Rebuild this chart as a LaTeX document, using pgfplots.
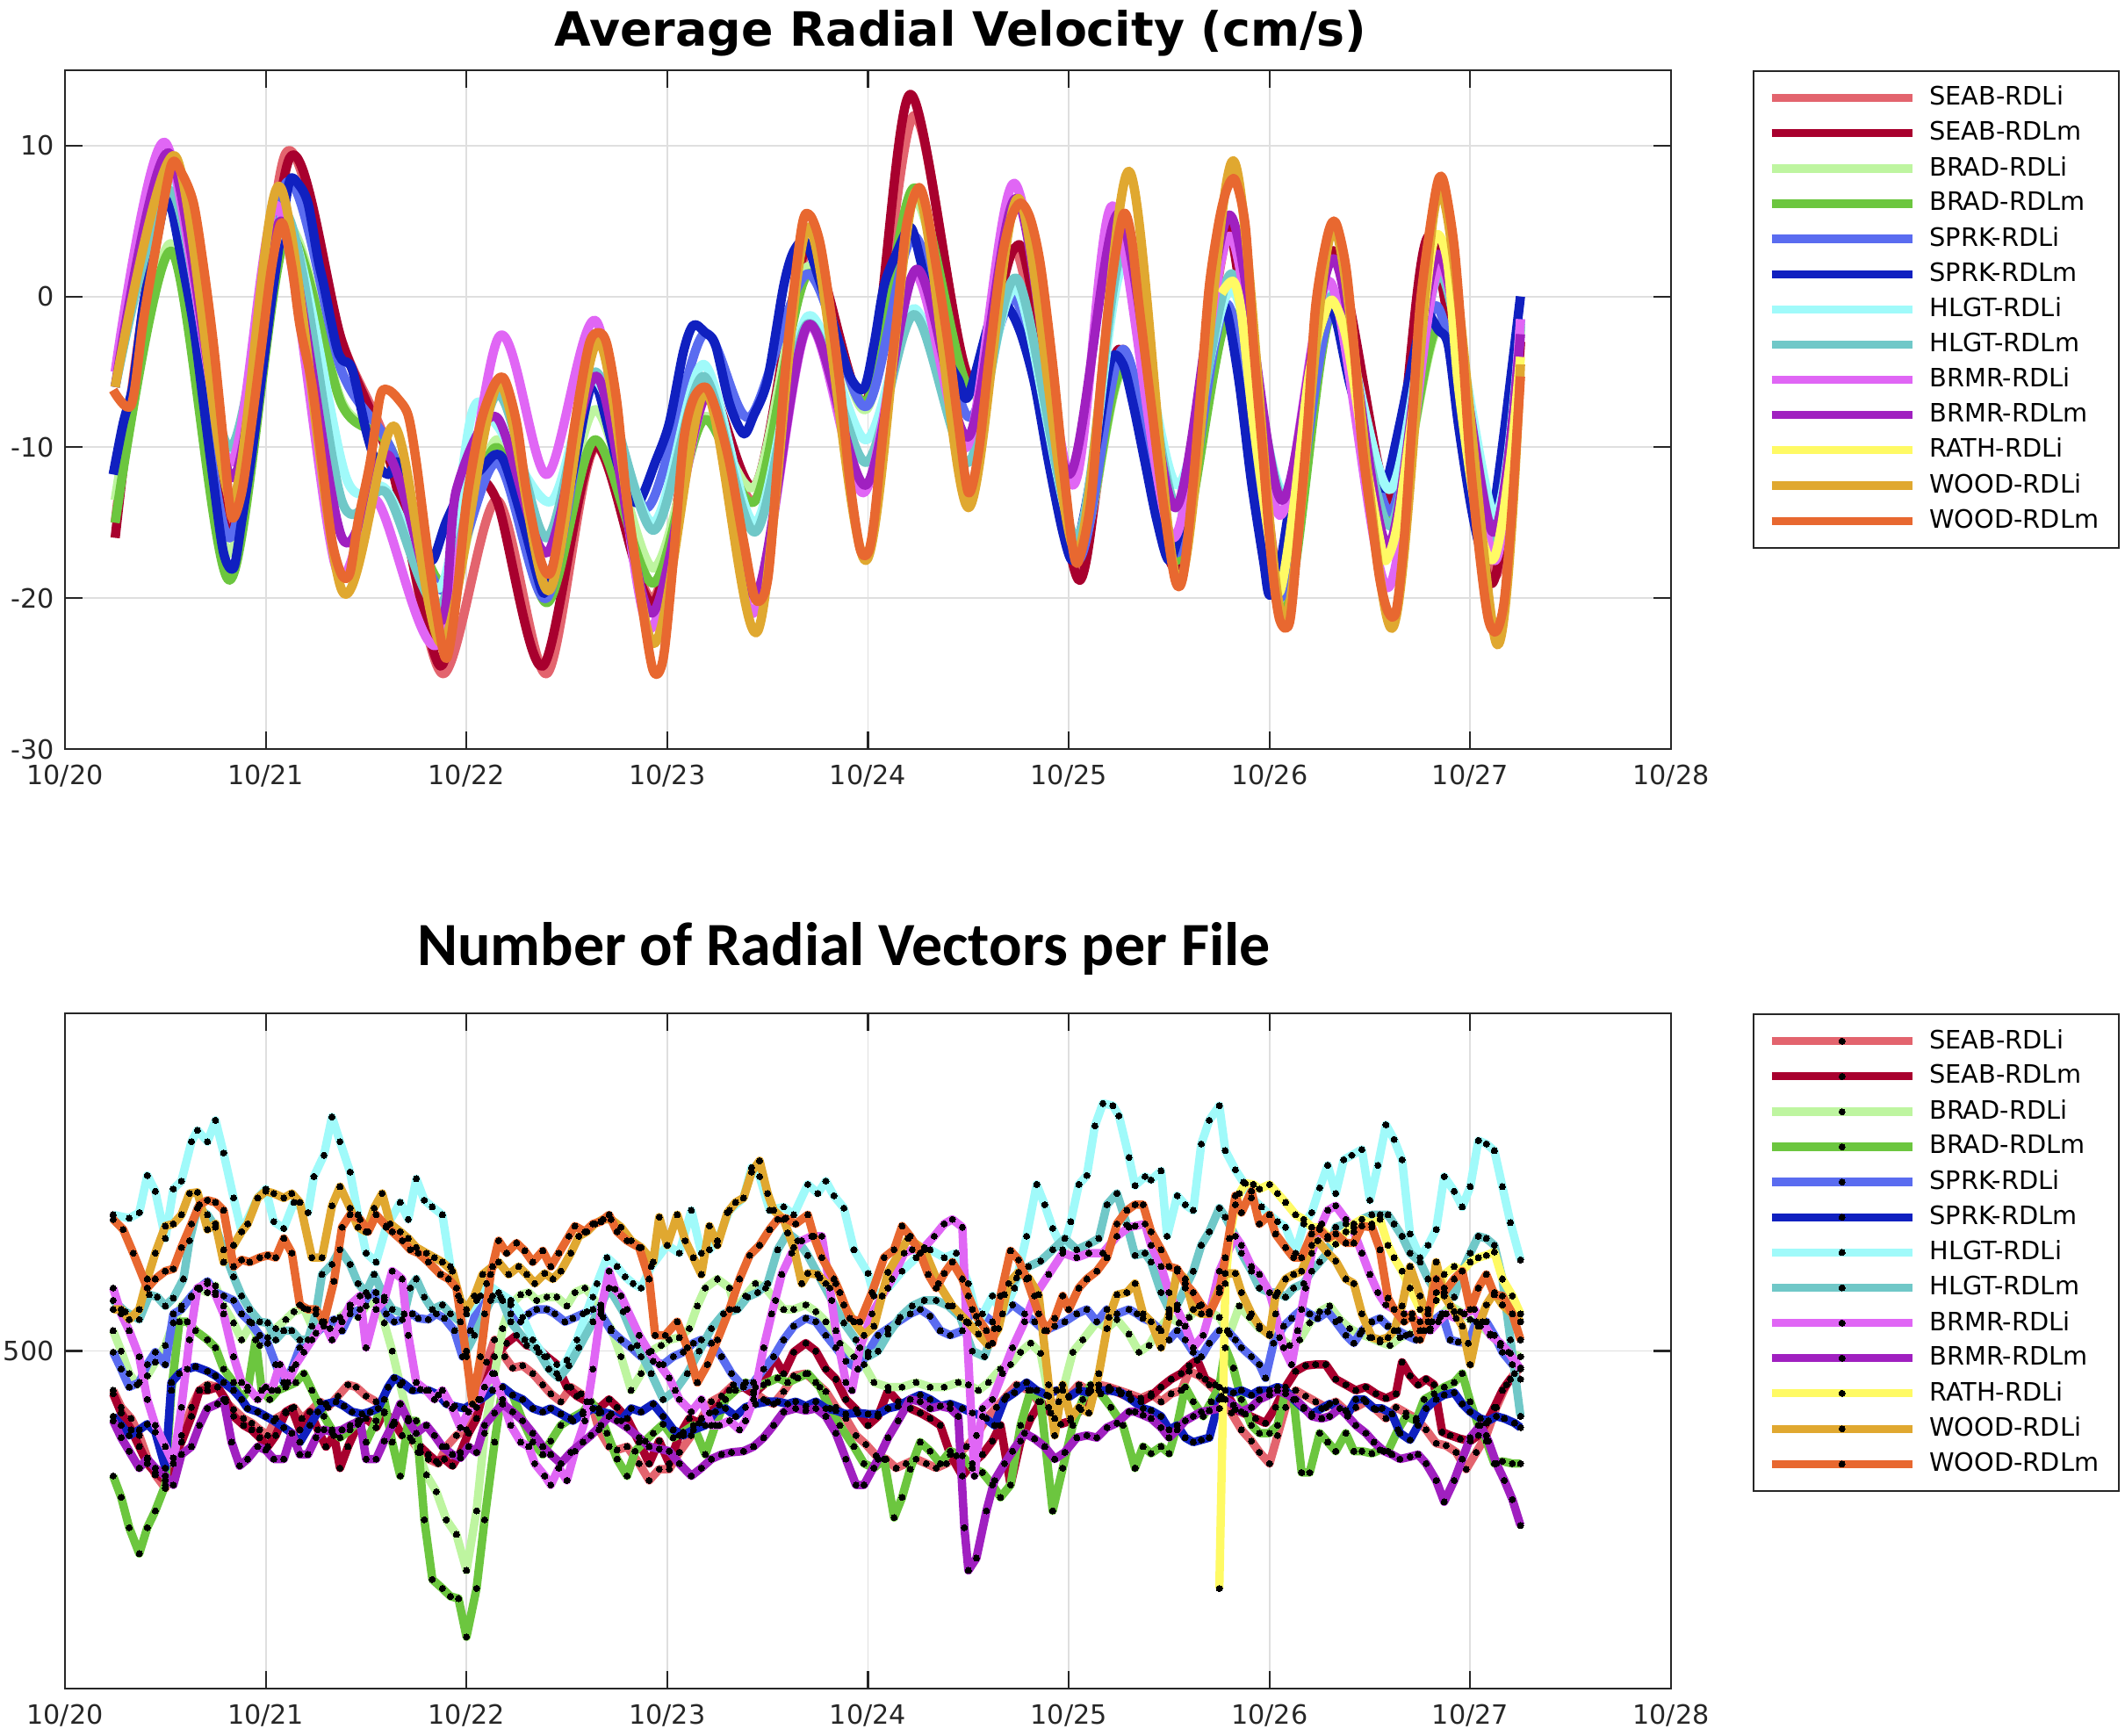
\documentclass[border=0pt]{standalone}
\usepackage{fontspec}
\setmainfont{DejaVu Sans}
\newfontfamily\carlito{Carlito}
\usepackage{pgfplots}
\pgfplotsset{compat=1.18}
\definecolor{axc}{RGB}{38,38,38}
\definecolor{gridc}{RGB}{223,223,223}
\definecolor{cSEABi}{RGB}{227,100,110}
\definecolor{cSEABm}{RGB}{168,0,46}
\definecolor{cBRADi}{RGB}{190,245,160}
\definecolor{cBRADm}{RGB}{108,198,63}
\definecolor{cSPRKi}{RGB}{90,108,240}
\definecolor{cSPRKm}{RGB}{16,32,192}
\definecolor{cHLGTi}{RGB}{160,250,250}
\definecolor{cHLGTm}{RGB}{112,200,200}
\definecolor{cBRMRi}{RGB}{224,102,245}
\definecolor{cBRMRm}{RGB}{160,32,192}
\definecolor{cRATHi}{RGB}{255,250,100}
\definecolor{cWOODi}{RGB}{224,168,48}
\definecolor{cWOODm}{RGB}{232,104,48}
\pgfplotsset{
  mat/.style={
    scale only axis, width=18.29cm,
    xmin=0, xmax=8, xtick={0,1,2,3,4,5,6,7,8},
    xticklabels={10/20,10/21,10/22,10/23,10/24,10/25,10/26,10/27,10/28},
    grid=major, major grid style={draw=gridc, line width=0.55pt},
    axis line style={draw=axc, line width=0.6pt},
    tick style={draw=axc, line width=0.6pt}, major tick length=0.2cm, tick align=inside,
    ticklabel style={font=\fontsize{8.6}{10}\selectfont, text=axc},
    xticklabel style={yshift=-0.06cm},
    legend cell align=left,
    legend style={at={(1.0509,1)}, anchor=north west, draw=axc, line width=0.6pt, fill=white,
      inner xsep=0.16cm, inner ysep=0.1cm, row sep=-0.008cm, column sep=0.08cm,
      font=\fontsize{8.2}{9}\selectfont},
  },
  tl/.style={line width=3.0pt, smooth, line join=round},
  bl/.style={line width=2.7pt, line join=round, mark=*, mark size=1.0pt, mark options={draw=black, fill=black, line width=0pt}},
}
\begin{document}
\begin{tikzpicture}[x=1cm,y=1cm]
\useasboundingbox (0,0) rectangle (24.2,19.76);
\node[font=\fontsize{15.3}{18}\selectfont\bfseries, anchor=base] at (10.94,19.23) {Average Radial Velocity (cm/s)};
\node[font=\carlito\fontsize{19.9}{24}\selectfont\bfseries, anchor=base] at (9.61,8.77) {Number of Radial Vectors per File};
% ---------------- TOP ----------------
\begin{axis}[mat, at={(0.74cm,11.23cm)}, anchor=south west, height=7.73cm,
  ymin=-30, ymax=15, ytick={-30,-20,-10,0,10}, yticklabels={-30,-20,-10,0,10},
  legend image code/.code={\draw[#1, line width=2.6pt, sharp plot] (0cm,0cm) -- (1.6cm,0cm);}]
\addplot[cSEABi, tl] coordinates {(0.25,-15)(0.53,8)(0.82,-15.5)(1.10,9.5)(1.38,-3)(1.62,-10.5)(1.88,-25)(2.15,-13.5)(2.40,-25)(2.64,-10)(2.93,-20)(3.18,-6)(3.44,-13.5)(3.70,3)(3.99,-7)(4.23,12)(4.50,-5.5)(4.74,3)(5.04,-18)(5.27,-3.5)(5.54,-17.5)(5.81,4.5)(6.07,-20)(6.31,3)(6.60,-14)(6.85,3.5)(7.12,-18.5)(7.25,-3)};
\addlegendentry{SEAB-RDLi}
\addplot[cSEABm, tl] coordinates {(0.25,-16)(0.53,8.5)(0.82,-15.7)(1.12,9.2)(1.38,-3)(1.62,-11)(1.87,-24.5)(2.0,-13)(2.15,-13.5)(2.38,-24.5)(2.64,-9.9)(2.93,-20.3)(3.18,-5.8)(3.44,-12.5)(3.70,3.3)(3.99,-7)(4.21,13.4)(4.50,-5.3)(4.72,3)(4.81,0.7)(5.05,-18.8)(5.25,-3.5)(5.54,-18)(5.79,4.6)(6.05,-20)(6.31,3)(6.60,-13.5)(6.80,4)(7.10,-19)(7.25,-3)};
\addlegendentry{SEAB-RDLm}
\addplot[cBRADi, tl] coordinates {(0.25,-13.5)(0.53,3.5)(0.82,-17)(1.10,4.5)(1.38,-7)(1.62,-10)(1.88,-21)(2.15,-9.5)(2.40,-19)(2.64,-7.5)(2.93,-18)(3.18,-8)(3.44,-12.5)(3.70,2)(3.99,-7.5)(4.23,6.5)(4.50,-6.5)(4.74,0)(5.04,-17)(5.27,-5)(5.54,-17)(5.81,-1)(6.07,-20.5)(6.31,-1)(6.60,-15)(6.85,-2)(7.12,-16)(7.25,-2)};
\addlegendentry{BRAD-RDLi}
\addplot[cBRADm, tl] coordinates {(0.25,-15)(0.53,3)(0.82,-18.8)(1.10,4)(1.38,-7.2)(1.62,-10)(1.88,-19)(2.15,-10)(2.40,-20.3)(2.64,-9.5)(2.93,-19)(3.18,-8.2)(3.44,-13.5)(3.70,1.5)(3.99,-7)(4.23,7.2)(4.50,-6)(4.74,0)(5.04,-17)(5.27,-4.8)(5.54,-17.5)(5.81,-1)(6.07,-21)(6.31,-1.1)(6.60,-15)(6.85,-1.8)(7.12,-17)(7.25,-2)};
\addlegendentry{BRAD-RDLm}
\addplot[cSPRKi, tl] coordinates {(0.25,-6)(0.53,7)(0.82,-16)(1.10,7.5)(1.38,-5)(1.62,-10)(1.88,-19.5)(2.15,-11)(2.40,-20)(2.64,-5.5)(2.90,-14)(3.18,-2.5)(3.41,-8)(3.70,1.5)(3.99,-7.3)(4.23,4)(4.50,-8)(4.74,-0.3)(5.04,-17.5)(5.27,-3.5)(5.54,-17)(5.79,-0.5)(6.05,-20)(6.31,-1)(6.60,-14.3)(6.83,-0.6)(7.10,-16)(7.25,-1.5)};
\addlegendentry{SPRK-RDLi}
\addplot[cSPRKm, tl] coordinates {(0.24,-11.8)(0.29,-8.4)(0.34,-5.8)(0.39,-0.6)(0.45,3.3)(0.50,6.4)(0.53,5.9)(0.58,2.5)(0.64,-1.9)(0.69,-7.1)(0.74,-12.3)(0.79,-17)(0.84,-18)(0.88,-14.9)(0.93,-10.5)(0.98,-5.3)(1.03,-0.1)(1.08,4.6)(1.12,7.7)(1.16,7.5)(1.21,6.2)(1.26,2.5)(1.29,0.7)(1.35,-3.2)(1.38,-4.2)(1.43,-4.8)(1.50,-8.9)(1.55,-11)(1.61,-11.8)(1.66,-11)(1.71,-13.6)(1.78,-16.2)(1.83,-17.5)(1.90,-14.9)(1.99,-12.5)(2.07,-11.5)(2.14,-10.5)(2.19,-11)(2.28,-14.9)(2.37,-19.3)(2.40,-19.3)(2.46,-16.2)(2.54,-11)(2.61,-6.3)(2.65,-6.0)(2.70,-8.4)(2.75,-11)(2.80,-13)(2.86,-13.6)(2.94,-11)(3.01,-8.4)(3.08,-3.7)(3.13,-1.9)(3.19,-2.4)(3.24,-3.2)(3.31,-7.1)(3.38,-9.1)(3.43,-7.9)(3.50,-5.5)(3.58,0.7)(3.63,3)(3.69,3.6)(3.76,1)(3.83,-1.9)(3.91,-5.3)(3.98,-6.1)(4.03,-3.2)(4.08,0.7)(4.14,2.8)(4.21,4.6)(4.26,2.5)(4.31,-0.6)(4.38,-3.7)(4.45,-5.5)(4.50,-6.6)(4.62,-1)(4.69,-0.6)(4.76,-2.4)(4.83,-5.8)(4.90,-11)(4.97,-15.6)(5.02,-17.5)(5.07,-14.9)(5.14,-9.7)(5.21,-4.2)(5.27,-4.5)(5.32,-7.1)(5.38,-11)(5.44,-14.9)(5.50,-17.5)(5.56,-15)(5.63,-9)(5.70,-3)(5.75,-0.6)(5.79,-1.1)(5.85,-5.8)(5.91,-12.3)(5.97,-17.5)(6.0,-19.8)(6.05,-18)(6.12,-12)(6.20,-5)(6.28,-1)(6.33,-1.5)(6.40,-5.8)(6.51,-11)(6.55,-12.3)(6.58,-12.5)(6.65,-8.4)(6.73,-3.2)(6.78,-1.1)(6.84,-2.2)(6.89,-3.2)(6.94,-8.4)(7.0,-13.6)(7.05,-16.7)(7.09,-16.5)(7.15,-11)(7.21,-4.5)(7.25,0)};
\addlegendentry{SPRK-RDLm}
\addplot[cHLGTi, tl] coordinates {(0.25,-6)(0.53,7.5)(0.82,-10.5)(1.10,5)(1.40,-12)(1.60,-12.8)(1.87,-19.3)(2.03,-7.6)(2.15,-8.5)(2.42,-13.6)(2.64,-5.5)(2.93,-15)(3.18,-4.5)(3.44,-15)(3.70,-1.3)(3.99,-9.5)(4.23,-0.8)(4.50,-10)(4.74,0.5)(5.04,-16)(5.27,2)(5.54,-12.5)(5.81,0.5)(6.07,-13)(6.31,0.2)(6.60,-12.8)(6.85,1.8)(7.12,-14.5)(7.25,-2)};
\addlegendentry{HLGT-RDLi}
\addplot[cHLGTm, tl] coordinates {(0.25,-6)(0.53,7)(0.82,-10)(1.10,5.5)(1.38,-13.6)(1.60,-13)(1.87,-20.5)(2.15,-6.5)(2.40,-16)(2.64,-5)(2.93,-15.5)(3.18,-5.3)(3.44,-15.6)(3.70,-1.8)(3.99,-11)(4.23,-1.2)(4.50,-11)(4.74,1.2)(5.04,-16)(5.27,3)(5.54,-14)(5.81,1.5)(6.07,-13.5)(6.31,0)(6.60,-15.2)(6.85,1.5)(7.12,-16)(7.25,-1.8)};
\addlegendentry{HLGT-RDLm}
\addplot[cBRMRi, tl] coordinates {(0.25,-5)(0.50,10.2)(0.82,-11)(1.06,6)(1.35,-18)(1.55,-13.5)(1.86,-23)(2.16,-2.7)(2.40,-11.8)(2.65,-1.7)(2.91,-22)(3.20,-6.5)(3.43,-21)(3.70,-2)(3.98,-13)(4.23,1.5)(4.49,-10)(4.73,7.5)(5.02,-12.5)(5.22,6)(5.52,-16)(5.80,4)(6.05,-14.5)(6.30,1)(6.59,-19.3)(6.85,2)(7.12,-17.5)(7.25,-1.5)};
\addlegendentry{BRMR-RDLi}
\addplot[cBRMRm, tl] coordinates {(0.25,-6)(0.52,9.5)(0.83,-12)(1.08,5)(1.38,-16)(1.61,-10.5)(1.87,-21.5)(1.95,-12.8)(2.15,-8)(2.40,-17)(2.65,-5.3)(2.92,-21)(3.20,-6.5)(3.44,-19.8)(3.70,-1.9)(3.99,-12.5)(4.24,1.8)(4.50,-9.3)(4.74,6.5)(5.0,-11.8)(5.25,5.5)(5.53,-14)(5.80,5.4)(6.06,-13.5)(6.32,2.5)(6.59,-16.5)(6.84,2.8)(7.11,-15.6)(7.25,-2.5)};
\addlegendentry{BRMR-RDLm}
\addplot[cRATHi, tl] coordinates {(5.76,0.2)(5.82,1)(5.86,-1.1)(5.92,-8.4)(6.0,-16.2)(6.05,-19.6)(6.12,-14)(6.20,-5)(6.29,-0.6)(6.33,-0.6)(6.39,-3.2)(6.48,-11)(6.55,-16.2)(6.58,-17.5)(6.64,-14.9)(6.73,-5.8)(6.80,2.5)(6.84,4.1)(6.89,2)(6.94,-5.8)(7.02,-13.6)(7.08,-17)(7.12,-17.3)(7.16,-14.9)(7.21,-9.7)(7.25,-4)};
\addlegendentry{RATH-RDLi}
\addplot[cWOODi, tl] coordinates {(0.25,-6)(0.55,9.3)(0.83,-13.5)(1.07,7.3)(1.38,-19.5)(1.64,-8.6)(1.88,-23)(2.16,-5.8)(2.41,-19.5)(2.66,-3)(2.93,-23)(3.19,-6.3)(3.45,-22.2)(3.70,4.6)(3.99,-17.5)(4.24,7)(4.50,-14)(4.75,6.5)(5.04,-17)(5.30,8.3)(5.55,-19)(5.82,9)(6.07,-21.5)(6.32,4.5)(6.61,-22)(6.85,7)(7.13,-23)(7.25,-4.5)};
\addlegendentry{WOOD-RDLi}
\addplot[cWOODm, tl] coordinates {(0.24,-6.2)(0.33,-7.2)(0.39,-1.6)(0.46,3.8)(0.53,8.75)(0.58,8.2)(0.64,6.2)(0.69,2)(0.74,-3.2)(0.79,-9.7)(0.83,-14.6)(0.88,-13)(0.93,-8.4)(0.98,-3.2)(1.03,2)(1.08,4.9)(1.13,2)(1.17,-1.9)(1.23,-5.8)(1.28,-11)(1.33,-16.2)(1.38,-18.5)(1.42,-18.3)(1.46,-14.9)(1.52,-11)(1.57,-6.6)(1.61,-6.2)(1.66,-6.8)(1.71,-7.9)(1.75,-11)(1.80,-16.2)(1.85,-20.9)(1.90,-24)(1.95,-20)(2.0,-13.6)(2.07,-8.4)(2.14,-5.8)(2.19,-5.5)(2.25,-8.4)(2.30,-13)(2.37,-17.5)(2.42,-18.3)(2.47,-14.9)(2.54,-8.4)(2.61,-3.2)(2.66,-2.4)(2.70,-3.2)(2.75,-7.1)(2.80,-13.6)(2.87,-20.1)(2.93,-24.8)(2.98,-24)(3.03,-17.5)(3.08,-9.7)(3.13,-6.8)(3.19,-6)(3.24,-7.4)(3.31,-11)(3.38,-16.2)(3.44,-20.1)(3.50,-18.8)(3.55,-11)(3.60,-3.2)(3.67,4.6)(3.71,5.4)(3.76,3.6)(3.81,-0.6)(3.86,-5.8)(3.91,-12.3)(3.96,-16.7)(4.0,-17)(4.03,-14.9)(4.08,-8.4)(4.14,-1.9)(4.19,4.6)(4.25,7.2)(4.29,5.9)(4.34,2)(4.40,-3.2)(4.45,-8.4)(4.50,-13)(4.55,-10.4)(4.60,-4.5)(4.66,2)(4.71,5.1)(4.76,6.2)(4.81,5.1)(4.86,2)(4.92,-4.5)(4.97,-11)(5.02,-16.7)(5.05,-17.5)(5.11,-13.6)(5.16,-5.8)(5.21,0.7)(5.27,5.4)(5.31,4.1)(5.35,-0.6)(5.41,-7.1)(5.47,-13.6)(5.53,-18.8)(5.57,-18.5)(5.62,-12.3)(5.66,-5.8)(5.70,0.7)(5.75,5.1)(5.79,7.2)(5.83,7.7)(5.88,4.6)(5.92,-3.2)(5.97,-11)(6.01,-17.5)(6.05,-21.4)(6.10,-21.6)(6.14,-16.2)(6.19,-8.4)(6.23,-0.6)(6.29,4.1)(6.33,4.9)(6.38,2)(6.42,-3.2)(6.46,-9.7)(6.51,-14.9)(6.55,-18.8)(6.59,-20.9)(6.63,-20.9)(6.67,-16.2)(6.71,-8.4)(6.75,-0.6)(6.80,4.6)(6.84,7.7)(6.87,7.5)(6.92,3.3)(6.96,-3.2)(7.0,-11)(7.05,-17.5)(7.09,-21.4)(7.13,-22.2)(7.17,-20.1)(7.21,-13.6)(7.25,-5.3)};
\addlegendentry{WOOD-RDLm}
\end{axis}
% ---------------- BOTTOM ----------------
\begin{axis}[mat, at={(0.74cm,0.53cm)}, anchor=south west, height=7.69cm,
  ymin=200, ymax=800, ytick={500}, yticklabels={500},
  legend image code/.code={\draw[#1, line width=2.6pt] (0cm,0cm) -- (1.6cm,0cm); \path[#1] plot[mark=*] coordinates {(0.8cm,0cm)};}]
\addplot[cSEABi, bl] coordinates {(0.24,465)(0.28,450)(0.33,440)(0.37,425)(0.41,405)(0.45,390)(0.50,378)(0.54,400)(0.58,425)(0.63,450)(0.67,465)(0.71,470)(0.76,468)(0.80,455)(0.84,448)(0.89,440)(0.93,436)(0.97,430)(1.01,425)(1.05,440)(1.10,445)(1.14,450)(1.18,440)(1.22,446)(1.27,455)(1.31,450)(1.36,460)(1.41,470)(1.45,468)(1.50,460)(1.55,455)(1.59,445)(1.64,435)(1.68,425)(1.73,420)(1.77,410)(1.81,404)(1.86,400)(1.90,415)(1.95,425)(2.0,430)(2.05,450)(2.10,490)(2.14,510)(2.19,495)(2.23,485)(2.28,487)(2.33,480)(2.38,470)(2.42,462)(2.47,455)(2.52,468)(2.57,462)(2.62,455)(2.66,430)(2.71,415)(2.75,412)(2.80,415)(2.86,400)(2.91,385)(2.96,395)(3.01,395)(3.06,410)(3.12,425)(3.17,440)(3.22,455)(3.27,460)(3.33,470)(3.38,470)(3.43,464)(3.48,457)(3.53,453)(3.58,464)(3.63,478)(3.69,480)(3.74,472)(3.79,464)(3.84,450)(3.89,440)(3.94,425)(3.99,417)(4.04,407)(4.09,404)(4.14,396)(4.19,400)(4.24,404)(4.29,400)(4.34,396)(4.39,400)(4.44,407)(4.49,415)(4.54,425)(4.59,440)(4.64,450)(4.69,460)(4.74,470)(4.80,465)(4.85,455)(4.90,450)(4.95,455)(5.0,460)(5.05,470)(5.10,465)(5.15,470)(5.20,468)(5.25,465)(5.30,462)(5.36,458)(5.41,462)(5.46,455)(5.51,462)(5.56,465)(5.60,482)(5.65,478)(5.70,470)(5.76,460)(5.81,445)(5.86,430)(5.91,420)(5.95,410)(6.0,400)(6.04,425)(6.08,450)(6.13,465)(6.18,460)(6.23,455)(6.28,450)(6.33,455)(6.38,447)(6.43,450)(6.48,455)(6.53,448)(6.58,440)(6.63,450)(6.68,445)(6.73,440)(6.78,430)(6.83,418)(6.88,416)(6.93,410)(6.98,395)(7.03,410)(7.08,425)(7.13,450)(7.18,470)(7.22,480)(7.25,485)};
\addlegendentry{SEAB-RDLi}
\addplot[cSEABm, bl] coordinates {(0.24,462)(0.28,445)(0.33,430)(0.37,415)(0.41,400)(0.45,392)(0.50,385)(0.54,405)(0.58,419)(0.63,442)(0.67,465)(0.71,465)(0.76,468)(0.80,457)(0.84,442)(0.89,434)(0.93,430)(0.97,423)(1.01,415)(1.05,425)(1.10,446)(1.13,449)(1.17,430)(1.22,446)(1.26,430)(1.30,415)(1.34,425)(1.37,396)(1.41,415)(1.46,435)(1.50,440)(1.55,432)(1.59,446)(1.64,437)(1.68,425)(1.72,423)(1.77,415)(1.81,408)(1.85,402)(1.89,404)(1.93,398)(1.97,410)(2.01,427)(2.05,440)(2.09,468)(2.14,495)(2.20,507)(2.25,514)(2.30,505)(2.35,503)(2.40,495)(2.45,488)(2.50,468)(2.55,460)(2.60,455)(2.66,449)(2.71,457)(2.75,450)(2.80,440)(2.86,419)(2.91,400)(2.96,420)(3.01,400)(3.06,425)(3.11,440)(3.16,436)(3.21,445)(3.26,452)(3.31,465)(3.38,468)(3.43,462)(3.48,470)(3.53,495)(3.58,480)(3.63,499)(3.69,507)(3.74,500)(3.79,484)(3.84,475)(3.89,457)(3.94,448)(4.0,434)(4.05,442)(4.10,465)(4.15,455)(4.21,449)(4.26,445)(4.31,440)(4.36,434)(4.41,408)(4.47,389)(4.52,400)(4.57,408)(4.62,420)(4.66,434)(4.71,381)(4.76,420)(4.81,440)(4.86,455)(4.91,445)(4.96,435)(5.01,438)(5.06,448)(5.11,465)(5.16,462)(5.21,466)(5.26,462)(5.31,458)(5.36,455)(5.41,460)(5.46,468)(5.51,475)(5.56,480)(5.60,487)(5.64,492)(5.68,475)(5.73,470)(5.78,465)(5.83,448)(5.88,444)(5.93,440)(5.98,436)(6.03,450)(6.08,468)(6.13,482)(6.18,487)(6.23,488)(6.28,488)(6.33,475)(6.38,470)(6.43,465)(6.48,468)(6.53,462)(6.58,458)(6.63,462)(6.66,490)(6.70,478)(6.74,470)(6.78,475)(6.82,470)(6.86,428)(6.90,425)(6.95,422)(7.0,420)(7.04,425)(7.08,436)(7.12,450)(7.16,465)(7.20,475)(7.25,475)};
\addlegendentry{SEAB-RDLm}
\addplot[cBRADi, bl] coordinates {(0.24,518)(0.28,500)(0.32,480)(0.36,470)(0.41,478)(0.45,490)(0.50,505)(0.54,525)(0.58,540)(0.63,548)(0.67,555)(0.71,552)(0.75,558)(0.79,540)(0.84,525)(0.88,510)(0.93,525)(0.97,505)(1.01,512)(1.05,520)(1.10,528)(1.14,535)(1.19,538)(1.23,522)(1.28,526)(1.32,520)(1.37,530)(1.42,538)(1.46,530)(1.50,540)(1.55,545)(1.59,525)(1.63,500)(1.67,470)(1.71,440)(1.76,410)(1.80,390)(1.85,375)(1.90,350)(1.95,337)(2.0,305)(2.05,358)(2.09,427)(2.14,480)(2.18,520)(2.22,541)(2.27,550)(2.31,552)(2.35,545)(2.40,548)(2.45,548)(2.50,540)(2.54,552)(2.59,556)(2.63,548)(2.68,530)(2.72,520)(2.77,495)(2.82,465)(2.87,480)(2.92,500)(2.97,505)(3.01,510)(3.06,512)(3.11,520)(3.15,540)(3.19,556)(3.25,564)(3.31,556)(3.34,537)(3.39,549)(3.44,560)(3.49,556)(3.54,545)(3.58,537)(3.63,537)(3.69,541)(3.74,535)(3.79,526)(3.86,507)(3.93,495)(3.98,488)(4.03,472)(4.10,468)(4.17,468)(4.24,472)(4.31,468)(4.38,468)(4.45,472)(4.50,470)(4.55,465)(4.60,472)(4.66,484)(4.71,488)(4.76,499)(4.81,507)(4.86,498)(4.90,460)(4.93,440)(4.97,465)(5.02,499)(5.07,510)(5.14,526)(5.19,520)(5.24,528)(5.30,515)(5.35,499)(5.40,505)(5.45,520)(5.50,530)(5.55,525)(5.60,530)(5.65,540)(5.70,535)(5.75,530)(5.80,515)(5.85,540)(5.90,530)(5.95,520)(6.0,515)(6.05,512)(6.10,505)(6.15,510)(6.20,525)(6.25,535)(6.30,540)(6.35,528)(6.40,520)(6.45,515)(6.50,512)(6.55,508)(6.60,505)(6.65,512)(6.70,515)(6.75,518)(6.80,520)(6.85,530)(6.90,540)(6.95,535)(7.0,528)(7.05,522)(7.10,515)(7.15,505)(7.20,498)(7.25,495)};
\addlegendentry{BRAD-RDLi}
\addplot[cBRADm, bl] coordinates {(0.24,389)(0.28,370)(0.32,343)(0.37,320)(0.41,343)(0.45,358)(0.50,381)(0.53,465)(0.57,526)(0.61,526)(0.65,518)(0.71,510)(0.75,503)(0.79,484)(0.84,472)(0.88,457)(0.91,465)(0.95,510)(0.98,465)(1.02,457)(1.06,465)(1.10,468)(1.15,472)(1.19,480)(1.23,465)(1.29,442)(1.33,430)(1.37,423)(1.42,430)(1.46,438)(1.50,419)(1.55,438)(1.59,457)(1.63,419)(1.67,389)(1.71,438)(1.75,438)(1.79,350)(1.83,297)(1.88,289)(1.92,282)(1.96,280)(2.0,246)(2.05,289)(2.09,350)(2.14,419)(2.18,468)(2.23,461)(2.28,438)(2.33,419)(2.38,408)(2.42,420)(2.47,434)(2.52,440)(2.58,446)(2.62,455)(2.66,445)(2.70,427)(2.75,404)(2.80,389)(2.84,411)(2.89,420)(2.93,427)(2.98,435)(3.03,423)(3.08,428)(3.13,434)(3.19,408)(3.24,434)(3.29,457)(3.34,465)(3.39,472)(3.44,468)(3.50,472)(3.55,476)(3.60,472)(3.65,476)(3.70,480)(3.76,468)(3.81,449)(3.86,434)(3.93,415)(3.98,400)(4.03,396)(4.08,404)(4.13,352)(4.17,370)(4.21,395)(4.26,419)(4.31,411)(4.36,400)(4.41,411)(4.47,407)(4.52,396)(4.57,392)(4.62,381)(4.66,370)(4.71,381)(4.76,434)(4.81,465)(4.86,455)(4.92,358)(4.97,396)(5.02,434)(5.07,457)(5.11,470)(5.16,462)(5.21,450)(5.27,434)(5.33,396)(5.37,415)(5.41,409)(5.46,415)(5.50,409)(5.54,434)(5.58,468)(5.62,455)(5.67,442)(5.71,455)(5.75,468)(5.78,503)(5.82,485)(5.86,457)(5.91,434)(5.95,427)(6.0,427)(6.04,434)(6.08,465)(6.12,457)(6.16,392)(6.20,392)(6.25,427)(6.29,419)(6.33,411)(6.38,427)(6.42,411)(6.46,411)(6.51,409)(6.55,412)(6.59,411)(6.64,430)(6.68,442)(6.73,438)(6.77,457)(6.82,462)(6.87,468)(6.92,472)(6.96,480)(7.0,455)(7.04,434)(7.08,420)(7.12,400)(7.16,402)(7.21,400)(7.25,400)};
\addlegendentry{BRAD-RDLm}
\addplot[cSPRKi, bl] coordinates {(0.24,499)(0.28,484)(0.32,468)(0.37,472)(0.41,488)(0.45,499)(0.50,488)(0.54,533)(0.58,537)(0.63,549)(0.67,556)(0.71,562)(0.75,552)(0.79,549)(0.84,545)(0.88,533)(0.92,526)(0.97,514)(1.01,507)(1.05,488)(1.09,472)(1.13,484)(1.17,503)(1.21,510)(1.25,516)(1.29,522)(1.34,528)(1.38,518)(1.42,533)(1.47,537)(1.51,549)(1.55,552)(1.60,533)(1.64,526)(1.68,528)(1.73,533)(1.76,529)(1.81,528)(1.85,533)(1.89,529)(1.94,518)(1.98,495)(2.02,518)(2.07,549)(2.13,549)(2.18,545)(2.22,533)(2.27,526)(2.31,533)(2.35,537)(2.40,537)(2.44,533)(2.49,526)(2.53,529)(2.58,533)(2.63,537)(2.67,533)(2.72,518)(2.77,510)(2.82,503)(2.87,495)(2.93,491)(2.98,488)(3.03,495)(3.08,499)(3.13,507)(3.17,510)(3.22,507)(3.27,495)(3.32,480)(3.38,468)(3.43,472)(3.48,484)(3.53,495)(3.58,510)(3.63,522)(3.69,529)(3.74,526)(3.79,514)(3.84,503)(3.89,491)(3.95,484)(4.0,499)(4.05,514)(4.10,520)(4.15,526)(4.21,533)(4.26,537)(4.31,531)(4.36,518)(4.41,514)(4.47,518)(4.52,537)(4.57,533)(4.62,526)(4.67,533)(4.72,541)(4.78,533)(4.83,526)(4.88,518)(4.93,522)(4.98,526)(5.04,533)(5.09,537)(5.14,526)(5.19,537)(5.24,533)(5.30,537)(5.34,533)(5.37,529)(5.41,526)(5.46,518)(5.50,510)(5.54,518)(5.58,510)(5.62,499)(5.66,495)(5.70,507)(5.75,518)(5.79,518)(5.83,510)(5.86,503)(5.91,495)(5.95,488)(5.98,476)(6.02,507)(6.07,522)(6.11,529)(6.16,537)(6.20,533)(6.24,529)(6.29,535)(6.33,526)(6.38,514)(6.42,507)(6.46,518)(6.51,526)(6.55,529)(6.59,522)(6.64,518)(6.68,514)(6.73,510)(6.77,518)(6.81,526)(6.86,533)(6.90,510)(6.94,508)(6.99,507)(7.03,526)(7.08,526)(7.12,514)(7.16,499)(7.21,488)(7.25,484)};
\addlegendentry{SPRK-RDLi}
\addplot[cSPRKm, bl] coordinates {(0.24,442)(0.28,434)(0.32,425)(0.37,430)(0.41,435)(0.45,428)(0.50,396)(0.53,472)(0.57,480)(0.61,484)(0.65,486)(0.71,482)(0.75,478)(0.79,472)(0.84,465)(0.88,457)(0.91,449)(0.96,446)(1.0,442)(1.04,438)(1.09,432)(1.13,427)(1.17,419)(1.22,434)(1.26,446)(1.30,453)(1.35,455)(1.39,451)(1.43,446)(1.48,444)(1.52,446)(1.56,449)(1.61,468)(1.64,476)(1.68,472)(1.73,465)(1.77,466)(1.81,465)(1.86,461)(1.90,453)(1.94,451)(1.99,449)(2.03,453)(2.07,457)(2.13,465)(2.18,468)(2.23,461)(2.28,457)(2.33,449)(2.38,446)(2.42,449)(2.47,444)(2.53,438)(2.58,444)(2.63,449)(2.67,446)(2.72,444)(2.77,438)(2.82,449)(2.87,446)(2.93,453)(2.98,442)(3.03,430)(3.08,425)(3.13,430)(3.19,434)(3.24,446)(3.29,449)(3.34,442)(3.39,450)(3.44,453)(3.50,455)(3.55,455)(3.60,453)(3.64,455)(3.69,451)(3.74,455)(3.79,449)(3.84,447)(3.89,444)(3.95,445)(4.0,444)(4.05,444)(4.10,449)(4.15,451)(4.21,457)(4.26,461)(4.31,457)(4.36,451)(4.41,453)(4.47,449)(4.52,445)(4.57,442)(4.63,434)(4.68,457)(4.73,463)(4.79,472)(4.84,465)(4.89,461)(4.94,465)(5.0,459)(5.05,465)(5.10,463)(5.15,465)(5.20,465)(5.26,463)(5.31,457)(5.37,449)(5.41,447)(5.46,442)(5.50,430)(5.54,434)(5.58,423)(5.62,419)(5.66,421)(5.70,423)(5.75,457)(5.78,465)(5.82,463)(5.86,465)(5.91,461)(5.95,465)(6.0,465)(6.04,468)(6.08,465)(6.12,457)(6.17,449)(6.21,444)(6.26,449)(6.30,453)(6.35,449)(6.39,444)(6.43,457)(6.47,457)(6.52,449)(6.56,449)(6.61,444)(6.65,427)(6.70,421)(6.74,434)(6.78,449)(6.83,457)(6.87,461)(6.92,463)(6.96,453)(7.0,446)(7.05,440)(7.09,438)(7.13,442)(7.17,440)(7.22,436)(7.25,432)};
\addlegendentry{SPRK-RDLm}
\addplot[cHLGTi, bl] coordinates {(0.24,621)(0.32,618)(0.37,623)(0.41,656)(0.45,642)(0.50,600)(0.54,644)(0.58,651)(0.63,686)(0.66,696)(0.71,686)(0.75,705)(0.79,676)(0.84,636)(0.88,606)(0.96,636)(1.0,644)(1.04,615)(1.09,609)(1.14,632)(1.21,623)(1.24,655)(1.29,674)(1.33,708)(1.37,686)(1.42,659)(1.46,621)(1.50,587)(1.55,579)(1.60,610)(1.67,632)(1.71,617)(1.75,653)(1.79,634)(1.83,628)(1.88,621)(1.92,575)(1.96,549)(2.0,533)(2.05,545)(2.10,560)(2.16,552)(2.22,545)(2.28,530)(2.33,510)(2.39,495)(2.45,480)(2.50,492)(2.55,510)(2.60,535)(2.65,560)(2.70,583)(2.75,575)(2.79,566)(2.83,560)(2.87,556)(2.92,575)(3.0,594)(3.06,587)(3.12,625)(3.17,587)(3.21,590)(3.25,598)(3.31,625)(3.38,636)(3.42,663)(3.46,655)(3.51,625)(3.58,628)(3.63,621)(3.70,648)(3.75,640)(3.79,651)(3.83,638)(3.88,627)(3.93,590)(4.0,569)(4.03,549)(4.10,556)(4.17,571)(4.24,583)(4.31,590)(4.38,583)(4.44,587)(4.50,560)(4.55,525)(4.62,549)(4.67,533)(4.73,556)(4.79,602)(4.84,648)(4.88,630)(4.92,609)(4.97,590)(5.01,615)(5.05,648)(5.09,656)(5.13,700)(5.17,720)(5.22,718)(5.25,709)(5.30,672)(5.33,647)(5.38,655)(5.41,652)(5.46,660)(5.49,602)(5.54,638)(5.58,630)(5.62,625)(5.66,684)(5.70,705)(5.75,718)(5.78,678)(5.83,661)(5.87,650)(5.91,636)(5.96,628)(6.0,621)(6.04,615)(6.08,610)(6.13,587)(6.17,613)(6.21,623)(6.25,645)(6.29,665)(6.33,640)(6.37,670)(6.41,674)(6.46,679)(6.50,634)(6.54,665)(6.58,701)(6.62,688)(6.66,670)(6.70,604)(6.75,583)(6.79,594)(6.83,608)(6.87,655)(6.92,642)(6.96,628)(7.0,646)(7.04,687)(7.08,684)(7.12,678)(7.16,646)(7.20,614)(7.25,581)};
\addlegendentry{HLGT-RDLi}
\addplot[cHLGTm, bl] coordinates {(0.24,545)(0.30,535)(0.37,528)(0.42,550)(0.46,548)(0.50,540)(0.54,547)(0.59,564)(0.62,598)(0.66,627)(0.71,621)(0.75,610)(0.79,590)(0.84,566)(0.88,549)(0.92,537)(0.97,526)(1.01,525)(1.05,510)(1.09,518)(1.13,518)(1.17,510)(1.21,510)(1.25,533)(1.28,568)(1.33,577)(1.37,590)(1.42,577)(1.46,560)(1.50,552)(1.54,568)(1.59,548)(1.63,537)(1.69,533)(1.72,556)(1.75,564)(1.79,548)(1.83,537)(1.88,541)(1.92,533)(1.97,526)(2.0,500)(2.04,514)(2.09,533)(2.12,545)(2.17,548)(2.22,526)(2.29,510)(2.36,499)(2.41,484)(2.46,476)(2.51,487)(2.56,503)(2.63,526)(2.67,541)(2.71,556)(2.78,535)(2.85,505)(2.92,480)(2.98,457)(3.04,465)(3.10,480)(3.16,500)(3.22,520)(3.28,533)(3.35,537)(3.40,548)(3.45,552)(3.50,560)(3.55,590)(3.60,605)(3.65,598)(3.70,585)(3.76,565)(3.82,545)(3.88,525)(3.94,510)(4.0,495)(4.05,500)(4.10,515)(4.16,530)(4.22,540)(4.28,545)(4.34,545)(4.40,540)(4.46,530)(4.52,500)(4.58,495)(4.63,520)(4.68,550)(4.74,565)(4.80,575)(4.86,580)(4.92,590)(4.98,600)(5.04,590)(5.10,595)(5.15,600)(5.19,630)(5.24,640)(5.29,612)(5.33,585)(5.38,587)(5.41,579)(5.46,552)(5.50,537)(5.54,541)(5.58,556)(5.62,571)(5.66,594)(5.70,606)(5.75,627)(5.78,619)(5.83,602)(5.86,587)(5.91,571)(5.95,556)(6.0,552)(6.04,552)(6.08,548)(6.12,556)(6.17,560)(6.21,571)(6.25,579)(6.29,587)(6.33,610)(6.38,613)(6.42,610)(6.46,617)(6.51,621)(6.55,621)(6.59,621)(6.62,613)(6.66,602)(6.70,587)(6.75,579)(6.79,564)(6.83,552)(6.87,556)(6.92,548)(6.96,571)(7.0,587)(7.04,602)(7.08,600)(7.12,594)(7.16,564)(7.20,510)(7.25,442)};
\addlegendentry{HLGT-RDLm}
\addplot[cBRMRi, bl] coordinates {(0.24,556)(0.28,533)(0.32,518)(0.37,495)(0.41,457)(0.45,434)(0.50,415)(0.54,400)(0.58,450)(0.62,510)(0.66,556)(0.71,560)(0.75,550)(0.79,533)(0.84,495)(0.88,472)(0.91,468)(0.96,457)(1.0,468)(1.03,465)(1.07,488)(1.11,472)(1.15,488)(1.19,499)(1.23,510)(1.29,526)(1.33,510)(1.38,526)(1.42,541)(1.47,549)(1.50,503)(1.55,537)(1.59,545)(1.63,571)(1.68,564)(1.71,514)(1.75,472)(1.80,465)(1.84,457)(1.88,465)(1.93,449)(1.97,432)(2.01,446)(2.06,457)(2.09,468)(2.13,480)(2.18,457)(2.22,434)(2.27,419)(2.31,415)(2.34,400)(2.39,389)(2.42,381)(2.46,396)(2.50,385)(2.54,411)(2.59,438)(2.63,484)(2.67,537)(2.71,571)(2.74,555)(2.77,549)(2.80,537)(2.86,514)(2.91,499)(2.96,488)(3.01,476)(3.06,457)(3.12,446)(3.17,457)(3.22,434)(3.26,434)(3.31,438)(3.36,430)(3.39,438)(3.43,457)(3.48,503)(3.52,533)(3.57,568)(3.62,587)(3.67,598)(3.72,602)(3.77,602)(3.81,556)(3.84,518)(3.89,472)(3.92,465)(3.96,503)(4.02,533)(4.07,549)(4.12,564)(4.18,587)(4.22,590)(4.28,592)(4.33,602)(4.38,613)(4.42,617)(4.47,610)(4.49,526)(4.53,389)(4.57,449)(4.62,457)(4.67,480)(4.72,503)(4.78,526)(4.83,549)(4.90,568)(4.97,587)(5.04,583)(5.10,587)(5.17,587)(5.24,602)(5.30,610)(5.33,611)(5.38,613)(5.41,594)(5.46,575)(5.50,552)(5.54,537)(5.58,522)(5.62,503)(5.67,514)(5.70,533)(5.75,571)(5.78,583)(5.83,602)(5.86,594)(5.91,575)(5.95,568)(6.0,552)(6.03,533)(6.07,503)(6.11,488)(6.14,518)(6.18,556)(6.21,587)(6.26,613)(6.29,625)(6.33,629)(6.38,617)(6.42,606)(6.46,587)(6.50,568)(6.54,552)(6.58,541)(6.62,537)(6.67,533)(6.71,529)(6.75,526)(6.80,518)(6.84,526)(6.88,533)(6.93,529)(6.97,533)(7.02,537)(7.06,526)(7.10,514)(7.15,507)(7.19,499)(7.25,484)};
\addlegendentry{BRMR-RDLi}
\addplot[cBRMRm, bl] coordinates {(0.24,438)(0.28,423)(0.32,411)(0.37,396)(0.41,404)(0.45,396)(0.50,389)(0.54,381)(0.58,408)(0.63,415)(0.67,434)(0.71,449)(0.76,453)(0.79,457)(0.83,419)(0.87,398)(0.91,404)(0.96,415)(1.0,412)(1.04,404)(1.09,404)(1.13,427)(1.17,408)(1.21,408)(1.25,423)(1.29,430)(1.33,428)(1.38,430)(1.42,434)(1.47,438)(1.50,404)(1.55,404)(1.59,420)(1.63,434)(1.67,453)(1.71,438)(1.75,427)(1.80,434)(1.84,425)(1.88,415)(1.93,408)(1.97,405)(2.01,415)(2.05,410)(2.09,434)(2.14,445)(2.18,453)(2.23,446)(2.28,438)(2.33,427)(2.38,415)(2.42,408)(2.47,400)(2.52,410)(2.58,419)(2.62,425)(2.67,434)(2.71,442)(2.75,438)(2.80,432)(2.86,423)(2.91,415)(2.96,413)(3.01,411)(3.06,400)(3.12,389)(3.17,396)(3.22,404)(3.27,408)(3.32,410)(3.38,411)(3.43,415)(3.48,423)(3.53,434)(3.58,446)(3.64,449)(3.69,447)(3.74,449)(3.79,442)(3.84,427)(3.89,404)(3.94,381)(3.98,381)(4.05,404)(4.10,423)(4.15,438)(4.21,457)(4.26,455)(4.31,449)(4.36,451)(4.41,449)(4.45,442)(4.48,343)(4.50,305)(4.54,316)(4.59,358)(4.63,385)(4.68,400)(4.72,411)(4.78,427)(4.83,422)(4.88,415)(4.93,404)(4.98,410)(5.04,423)(5.09,425)(5.14,423)(5.19,432)(5.24,436)(5.30,446)(5.33,446)(5.37,443)(5.41,440)(5.46,432)(5.50,423)(5.54,430)(5.58,438)(5.62,442)(5.66,446)(5.70,447)(5.75,449)(5.78,457)(5.82,452)(5.86,446)(5.91,450)(5.95,457)(6.0,461)(6.04,465)(6.08,462)(6.13,457)(6.17,450)(6.21,442)(6.26,440)(6.30,442)(6.35,449)(6.39,442)(6.43,434)(6.48,427)(6.52,419)(6.57,411)(6.61,408)(6.65,404)(6.70,406)(6.74,408)(6.78,400)(6.83,385)(6.87,366)(6.92,385)(6.96,404)(7.0,423)(7.05,434)(7.09,420)(7.13,400)(7.17,385)(7.21,368)(7.25,345)};
\addlegendentry{BRMR-RDLm}
\addplot[cRATHi, bl] coordinates {(5.75,289)(5.78,560)(5.80,600)(5.83,630)(5.85,640)(5.88,649)(5.92,648)(5.95,644)(6.0,648)(6.04,640)(6.08,632)(6.13,621)(6.17,617)(6.21,610)(6.25,610)(6.29,602)(6.33,595)(6.38,606)(6.42,613)(6.46,617)(6.51,613)(6.55,617)(6.59,594)(6.62,583)(6.66,571)(6.70,556)(6.75,537)(6.79,537)(6.83,545)(6.87,568)(6.92,575)(6.96,571)(7.0,579)(7.04,583)(7.08,585)(7.12,588)(7.16,564)(7.21,549)(7.25,533)};
\addlegendentry{RATH-RDLi}
\addplot[cWOODi, bl] coordinates {(0.24,537)(0.28,537)(0.32,528)(0.37,537)(0.41,564)(0.45,587)(0.50,611)(0.54,613)(0.58,621)(0.62,640)(0.66,641)(0.71,608)(0.75,613)(0.79,579)(0.84,594)(0.88,606)(0.91,613)(0.96,636)(1.0,642)(1.04,640)(1.09,636)(1.13,640)(1.17,632)(1.23,583)(1.28,583)(1.33,629)(1.37,646)(1.42,627)(1.46,610)(1.50,606)(1.54,627)(1.58,640)(1.62,613)(1.67,606)(1.71,600)(1.75,592)(1.80,587)(1.84,583)(1.88,579)(1.93,571)(1.97,545)(2.0,537)(2.04,549)(2.08,568)(2.13,575)(2.16,579)(2.21,568)(2.26,575)(2.30,568)(2.34,560)(2.39,569)(2.43,564)(2.47,571)(2.52,587)(2.56,602)(2.60,606)(2.64,613)(2.68,617)(2.72,617)(2.77,610)(2.82,598)(2.87,592)(2.93,579)(2.96,619)(3.0,594)(3.05,621)(3.09,598)(3.13,583)(3.17,568)(3.21,611)(3.25,594)(3.30,623)(3.34,632)(3.38,636)(3.42,659)(3.46,669)(3.50,640)(3.53,625)(3.58,617)(3.63,592)(3.67,560)(3.70,569)(3.75,568)(3.79,560)(3.84,560)(3.88,541)(3.93,526)(3.98,514)(4.03,522)(4.10,570)(4.20,600)(4.28,590)(4.35,560)(4.42,540)(4.50,525)(4.55,515)(4.60,505)(4.65,520)(4.70,560)(4.75,570)(4.80,565)(4.85,550)(4.90,470)(4.93,425)(4.97,470)(5.01,440)(5.05,450)(5.10,445)(5.15,480)(5.20,530)(5.24,550)(5.29,552)(5.33,560)(5.37,533)(5.41,526)(5.46,503)(5.50,533)(5.54,571)(5.58,564)(5.62,537)(5.66,533)(5.70,533)(5.75,556)(5.78,569)(5.83,569)(5.86,552)(5.91,533)(5.95,522)(6.0,514)(6.03,549)(6.08,564)(6.12,568)(6.16,571)(6.21,594)(6.24,598)(6.29,587)(6.33,580)(6.38,564)(6.42,560)(6.46,533)(6.51,512)(6.55,510)(6.59,512)(6.62,518)(6.66,540)(6.70,575)(6.75,549)(6.79,526)(6.83,579)(6.87,549)(6.92,535)(6.96,522)(7.0,488)(7.04,522)(7.08,541)(7.12,552)(7.16,541)(7.21,533)(7.25,526)};
\addlegendentry{WOOD-RDLi}
\addplot[cWOODm, bl] coordinates {(0.24,617)(0.29,608)(0.34,587)(0.41,556)(0.45,564)(0.50,571)(0.54,573)(0.58,592)(0.63,613)(0.67,630)(0.71,634)(0.75,632)(0.79,625)(0.84,575)(0.88,581)(0.92,579)(0.97,583)(1.01,585)(1.05,583)(1.09,600)(1.13,587)(1.17,541)(1.21,537)(1.25,537)(1.29,526)(1.34,562)(1.38,610)(1.42,621)(1.47,617)(1.51,606)(1.55,621)(1.60,611)(1.63,606)(1.68,598)(1.72,590)(1.76,587)(1.81,579)(1.87,568)(1.91,564)(1.95,556)(2.0,495)(2.03,453)(2.07,495)(2.12,568)(2.16,598)(2.20,587)(2.25,596)(2.29,589)(2.33,579)(2.38,589)(2.42,575)(2.46,587)(2.51,602)(2.54,611)(2.59,606)(2.63,613)(2.67,615)(2.71,621)(2.75,606)(2.80,598)(2.86,592)(2.91,564)(2.94,514)(2.99,514)(3.05,526)(3.10,503)(3.15,472)(3.20,488)(3.25,510)(3.31,537)(3.36,564)(3.41,585)(3.46,594)(3.51,608)(3.55,617)(3.59,618)(3.64,613)(3.70,621)(3.73,602)(3.77,583)(3.83,564)(3.86,552)(3.91,529)(3.96,526)(4.02,552)(4.08,583)(4.13,590)(4.17,611)(4.21,602)(4.26,587)(4.30,568)(4.34,556)(4.38,569)(4.42,579)(4.47,564)(4.50,549)(4.54,531)(4.59,518)(4.62,507)(4.66,549)(4.71,589)(4.75,581)(4.79,564)(4.85,533)(4.89,518)(4.93,529)(4.97,549)(5.0,537)(5.05,556)(5.09,564)(5.14,571)(5.19,583)(5.24,613)(5.29,625)(5.33,630)(5.37,630)(5.41,606)(5.46,590)(5.50,575)(5.54,573)(5.58,560)(5.62,552)(5.66,541)(5.70,533)(5.75,552)(5.78,583)(5.83,638)(5.86,623)(5.91,642)(5.95,613)(6.0,621)(6.03,604)(6.08,592)(6.12,583)(6.16,583)(6.21,604)(6.25,608)(6.29,600)(6.33,604)(6.38,596)(6.42,596)(6.46,611)(6.51,610)(6.55,590)(6.59,547)(6.62,537)(6.67,526)(6.71,533)(6.75,510)(6.79,533)(6.83,564)(6.87,552)(6.92,564)(6.96,571)(7.0,537)(7.04,556)(7.08,568)(7.12,550)(7.16,549)(7.21,533)(7.25,510)};
\addlegendentry{WOOD-RDLm}
\end{axis}
\end{tikzpicture}
\end{document}
